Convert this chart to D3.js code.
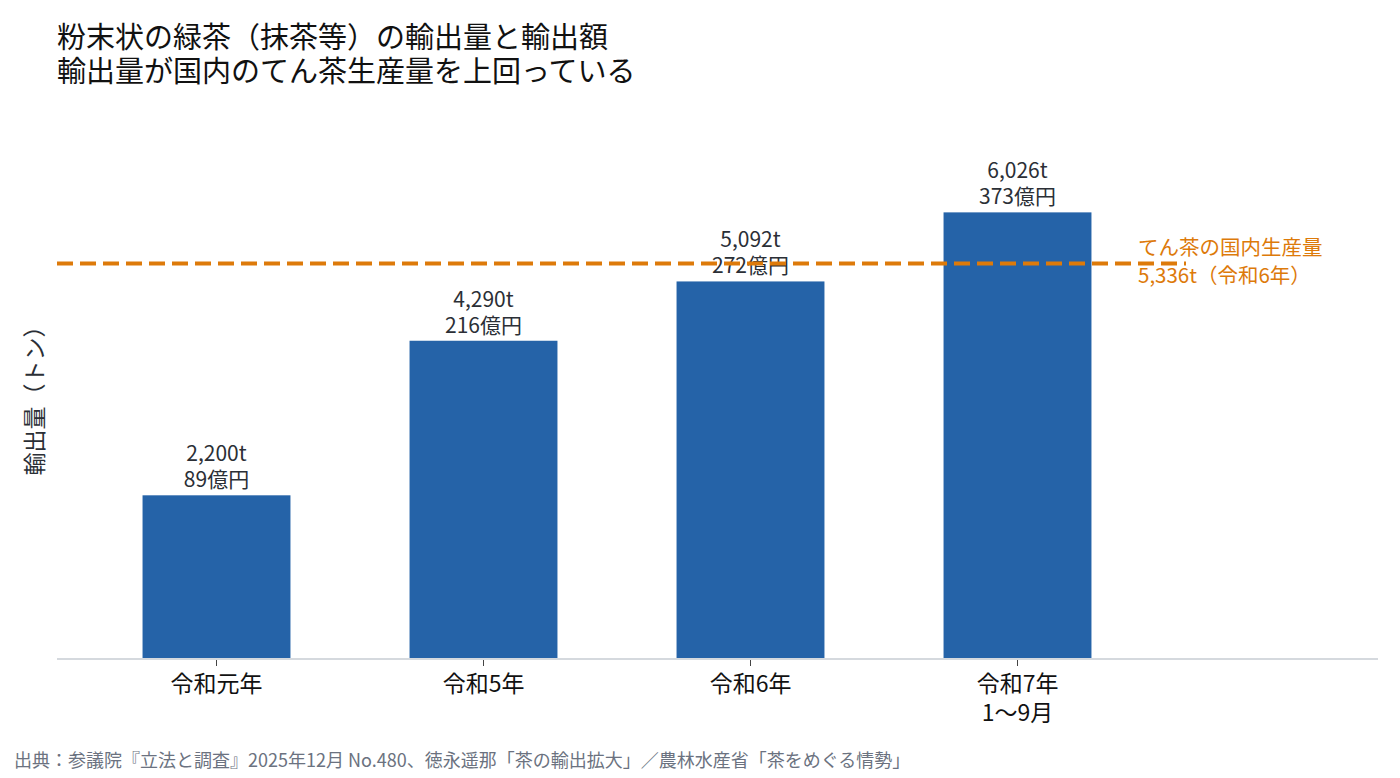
<!DOCTYPE html>
<html lang="ja">
<head>
<meta charset="utf-8">
<script src="https://cdn.jsdelivr.net/npm/d3@7"></script>
<style>
  body { margin: 0; background: #fff; }
  svg { font-family: "Noto Sans CJK JP", "Noto Sans", sans-serif; }
</style>
</head>
<body>
<div id="chart"></div>
<script>
// data
const categories = ["令和元年", "令和5年", "令和6年", "令和7年"];
const subLabels = ["", "", "", "1〜9月"];
const volumes = [2200, 4290, 5092, 6026];      // t
const values = [89, 216, 272, 373];            // 億円
const domestic = 5336;                          // てん茶の国内生産量 (令和6年)

const W = 1400, H = 778;
const baseY = 658;

const svg = d3.select("#chart").append("svg")
    .attr("width", W)
    .attr("height", H);

const x = d3.scaleBand()
    .domain(categories)
    .range([83, 1151])
    .paddingInner(0.446)
    .paddingOuter(0.223);

const y = d3.scaleLinear()
    .domain([0, 7532])
    .range([baseY, 101]);

// title
svg.append("text")
    .attr("x", 57).attr("y", 48)
    .attr("font-size", 29).attr("fill", "#111")
    .text("粉末状の緑茶（抹茶等）の輸出量と輸出額");
svg.append("text")
    .attr("x", 57).attr("y", 82)
    .attr("font-size", 29).attr("fill", "#111")
    .text("輸出量が国内のてん茶生産量を上回っている");

// bars
svg.selectAll("rect.bar")
    .data(categories)
    .enter().append("rect")
    .attr("class", "bar")
    .attr("x", d => x(d))
    .attr("width", x.bandwidth())
    .attr("y", (d, i) => y(volumes[i]))
    .attr("height", (d, i) => baseY - y(volumes[i]))
    .attr("fill", "#2563a8");

// value labels
const lab = svg.selectAll("g.lab")
    .data(categories)
    .enter().append("g")
    .attr("class", "lab")
    .attr("transform", (d, i) => `translate(${x(d) + x.bandwidth() / 2},${y(volumes[i])})`);
lab.append("text")
    .attr("y", -34)
    .attr("text-anchor", "middle")
    .attr("font-size", 21).attr("fill", "#2b2f36")
    .text((d, i) => d3.format(",")(volumes[i]) + "t");
lab.append("text")
    .attr("y", -8)
    .attr("text-anchor", "middle")
    .attr("font-size", 21).attr("fill", "#2b2f36")
    .text((d, i) => values[i] + "億円");

// domestic production line
svg.append("line")
    .attr("x1", 57).attr("x2", 1186)
    .attr("y1", y(domestic)).attr("y2", y(domestic))
    .attr("stroke", "#dd7a0a")
    .attr("stroke-width", 4)
    .attr("stroke-dasharray", "16,7");
svg.append("text")
    .attr("x", 1138).attr("y", y(domestic) - 8)
    .attr("font-size", 20.5).attr("fill", "#dd7a0a")
    .text("てん茶の国内生産量");
svg.append("text")
    .attr("x", 1138).attr("y", y(domestic) + 20)
    .attr("font-size", 20.5).attr("fill", "#dd7a0a")
    .text("5,336t（令和6年）");

// x axis
svg.append("line")
    .attr("x1", 57).attr("x2", 1378)
    .attr("y1", baseY + 1).attr("y2", baseY + 1)
    .attr("stroke", "#d5d9de").attr("stroke-width", 2);

const xAxis = svg.append("g")
    .attr("transform", `translate(0,${baseY + 2})`)
    .call(d3.axisBottom(x).tickSize(6).tickSizeOuter(0).tickPadding(10));
xAxis.select(".domain").remove();
xAxis.selectAll(".tick line").attr("stroke", "#444");
xAxis.selectAll(".tick text")
    .attr("font-size", 23).attr("fill", "#111")
    .attr("font-family", "Noto Sans CJK JP");
xAxis.selectAll(".tick").each(function (d, i) {
    if (subLabels[i]) {
        d3.select(this).append("text")
            .attr("y", 45).attr("dy", "0.71em").attr("text-anchor", "middle")
            .attr("font-size", 23).attr("fill", "#111")
            .attr("font-family", "Noto Sans CJK JP")
            .text(subLabels[i]);
    }
});

// y label
svg.append("text")
    .attr("transform", "translate(43,395) rotate(-90)")
    .attr("text-anchor", "middle")
    .attr("font-size", 23).attr("fill", "#2b2f36")
    .text("輸出量（トン）");

// source
svg.append("text")
    .attr("x", 14).attr("y", 767)
    .attr("font-size", 18).attr("fill", "#6b7280")
    .text("出典：参議院『立法と調査』2025年12月 No.480、徳永遥那「茶の輸出拡大」／農林水産省「茶をめぐる情勢」");
</script>
</body>
</html>
